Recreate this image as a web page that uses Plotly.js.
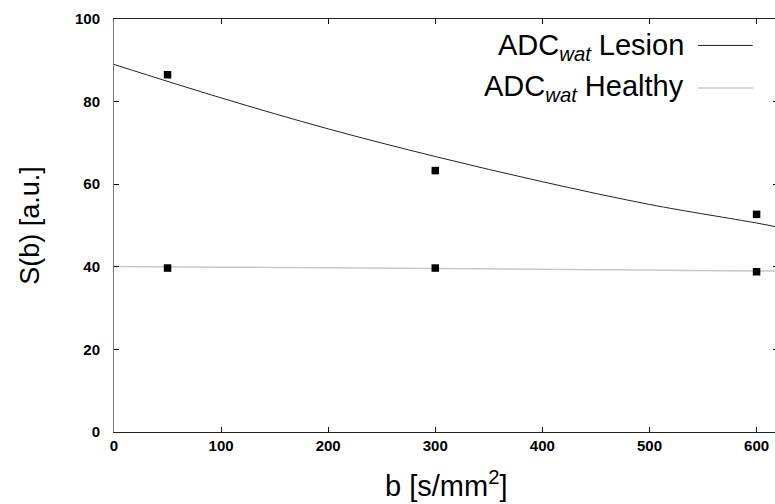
<!DOCTYPE html>
<html><head><meta charset="utf-8">
<script src="https://cdn.plot.ly/plotly-3.0.1.min.js"></script>
<style>html,body{margin:0;padding:0;overflow:hidden;background:#fff;width:775px;height:504px}</style>
</head><body>
<div id="chart"></div>
<script>
// Measured points
const bPoints = [50, 300, 600];
const lesionPoints = [86.5, 63.3, 52.7];
const healthyPoints = [39.7, 39.7, 38.8];
// Fitted curves
const bCurve = [0, 100, 200, 300, 400, 500, 600, 620];
const lesionCurve = [89.0, 80.9, 73.4, 66.7, 60.6, 55.1, 50.6, 49.6];
const healthyCurve = [40.1, 39.9, 39.8, 39.6, 39.4, 39.2, 39.0, 38.95];
const xTicks = [0, 100, 200, 300, 400, 500, 600];
const yTicks = [0, 20, 40, 60, 80, 100];
const legendLabels = ['ADC<sub><i>wat</i></sub> Lesion', 'ADC<sub><i>wat</i></sub> Healthy'];
const xTitle = 'b [s/mm<sup>2</sup>]';
const yTitle = 'S(b) [a.u.]';

const traces = [
  {x: bCurve, y: lesionCurve, mode: 'lines', line: {color: '#222', width: 1, shape: 'spline'}, showlegend: false},
  {x: bCurve, y: healthyCurve, mode: 'lines', line: {color: '#c8c8c8', width: 1.5, shape: 'spline'}, showlegend: false},
  {x: bPoints, y: lesionPoints, mode: 'markers', marker: {symbol: 'square', size: 7.5, color: '#000'}, showlegend: false},
  {x: bPoints, y: healthyPoints, mode: 'markers', marker: {symbol: 'square', size: 7.5, color: '#000'}, showlegend: false}
];

const font = {family: 'Liberation Sans, Arial, sans-serif', color: '#000'};
const tickFont = {family: 'Liberation Sans, Arial, sans-serif', color: '#000', size: 15, weight: 'bold'};
const layout = {
  width: 790, height: 504,
  margin: {l: 114, r: 12, t: 19, b: 72},
  paper_bgcolor: '#fff', plot_bgcolor: '#fff',
  showlegend: false,
  xaxis: {
    range: [0, 620], tickvals: xTicks, ticktext: xTicks.map(String),
    ticks: 'inside', ticklen: 5, tickcolor: '#000', showgrid: false, zeroline: false,
    showline: true, linecolor: '#222', linewidth: 1, mirror: 'ticks',
    tickfont: tickFont
  },
  yaxis: {
    range: [0, 100], tickvals: yTicks, ticktext: yTicks.map(String),
    ticks: 'inside', ticklen: 5, tickcolor: '#000', showgrid: false, zeroline: false,
    showline: true, linecolor: '#777', linewidth: 1, mirror: 'ticks',
    tickfont: tickFont, ticklabelstandoff: 10,
    title: {text: yTitle, font: Object.assign({size: 27}, font), standoff: 27}
  },
  annotations: [
    {xref: 'paper', yref: 'paper', x: 0.5, y: 0, xanchor: 'center', yanchor: 'top', yshift: -32, showarrow: false,
     text: xTitle, font: Object.assign({size: 29}, font)},
    {xref: 'paper', yref: 'paper', x: 0.861, y: 0.933, xanchor: 'right', yanchor: 'middle', showarrow: false,
     text: legendLabels[0], font: Object.assign({size: 29}, font)},
    {xref: 'paper', yref: 'paper', x: 0.861, y: 0.834, xanchor: 'right', yanchor: 'middle', showarrow: false,
     text: legendLabels[1], font: Object.assign({size: 29}, font)}
  ],
  shapes: [
    {type: 'line', xref: 'paper', yref: 'paper', x0: 0.8795, x1: 0.962, y0: 0.936, y1: 0.936, line: {color: '#222', width: 1}},
    {type: 'line', xref: 'paper', yref: 'paper', x0: 0.8795, x1: 0.962, y0: 0.833, y1: 0.833, line: {color: '#c8c8c8', width: 1.5}}
  ]
};
Plotly.newPlot('chart', traces, layout, {displayModeBar: false, staticPlot: true});
</script>
</body></html>
